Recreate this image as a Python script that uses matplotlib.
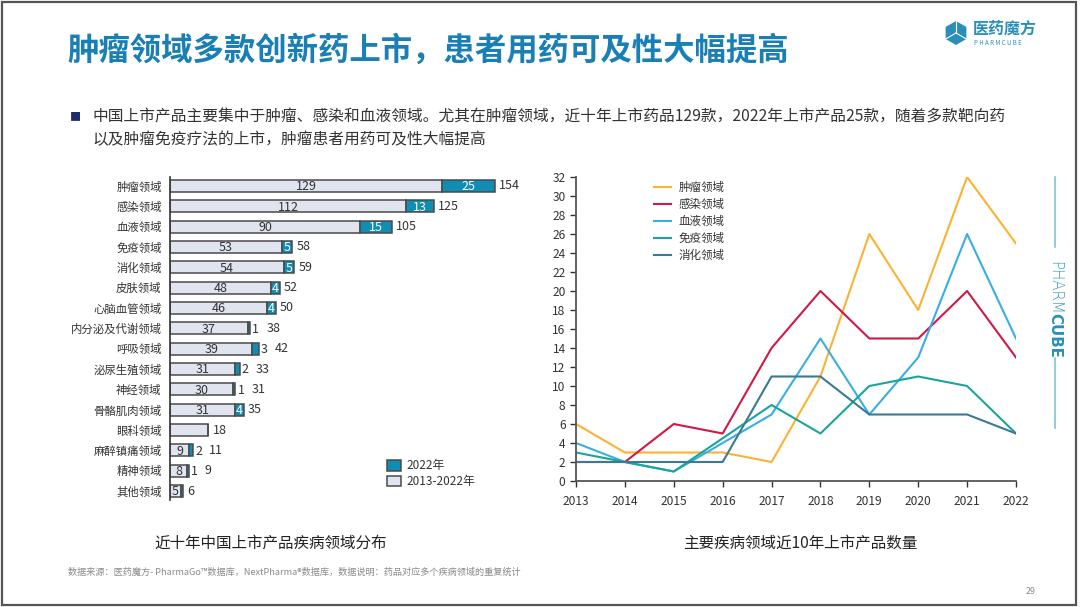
import matplotlib
matplotlib.use("Agg")
import matplotlib.pyplot as plt
from matplotlib.patches import Rectangle, Polygon
from matplotlib.lines import Line2D
import numpy as np

plt.rcParams['font.family'] = ['Noto Sans CJK SC', 'DejaVu Sans']

# ---------------- data ----------------
categories = ['肿瘤领域', '感染领域', '血液领域', '免疫领域', '消化领域', '皮肤领域',
              '心脑血管领域', '内分泌及代谢领域', '呼吸领域', '泌尿生殖领域', '神经领域',
              '骨骼肌肉领域', '眼科领域', '麻醉镇痛领域', '精神领域', '其他领域']
base_values = [129, 112, 90, 53, 54, 48, 46, 37, 39, 31, 30, 31, 18, 9, 8, 5]
new_values = [25, 13, 15, 5, 5, 4, 4, 1, 3, 2, 1, 4, 0, 2, 1, 1]
bar_legend = ['2022年', '2013-2022年']

years = [2013, 2014, 2015, 2016, 2017, 2018, 2019, 2020, 2021, 2022]
series_names = ['肿瘤领域', '感染领域', '血液领域', '免疫领域', '消化领域']
tumor = [6, 3, 3, 3, 2, 11, 26, 18, 32, 25]
infection = [2, 2, 6, 5, 14, 20, 15, 15, 20, 13]
blood = [4, 2, 1, 4, 7, 15, 7, 13, 26, 15]
immune = [3, 2, 1, 4.5, 8, 5, 10, 11, 10, 5]
digestive = [2, 2, 2, 2, 11, 11, 7, 7, 7, 5]
line_colors = ['#fbb234', '#cf1946', '#3aaee3', '#19a59b', '#3a7a93']

W, H = 1080, 607
fig = plt.figure(figsize=(W / 100, H / 100), dpi=100)
fig.patch.set_facecolor('white')


def fx(x):
    return x / W


def fy(y):
    return 1 - y / H


# slide border
fig.add_artist(Rectangle((fx(1.5), fy(604.5)), fx(1074), (603) / H, transform=fig.transFigure,
                         fill=False, edgecolor='#555555', lw=1.6))

# title
fig.text(fx(67), fy(51), '肿瘤领域多款创新药上市，患者用药可及性大幅提高', fontsize=22.6,
         fontweight='bold', color='#1a7fb5', va='center', ha='left')

# logo
cx, cy, r = 956, 33, 12
hexpts = [(cx + r * np.cos(np.radians(a)), cy + r * np.sin(np.radians(a))) for a in range(30, 390, 60)]
fig.add_artist(Polygon([(fx(x), fy(y)) for x, y in hexpts], closed=True, transform=fig.transFigure,
                       facecolor='#2a8fb8', edgecolor='none'))
for a in (90, 210, 330):
    x2 = cx + r * np.cos(np.radians(a))
    y2 = cy - r * np.sin(np.radians(a))
    fig.add_artist(Line2D([fx(cx), fx(x2)], [fy(cy), fy(y2)], transform=fig.transFigure,
                          color='white', lw=0.8))
fig.text(fx(973), fy(29), '医药魔方', fontsize=11.5, fontweight='bold', color='#2a8fb8',
         va='center', ha='left')
fig.text(fx(974), fy(43), 'P H A R M C U B E', fontsize=4.4, color='#2a8fb8', va='center', ha='left')

# bullet text
fig.text(fx(70), fy(117), '■', fontsize=8, color='#1d2c6b', va='center', ha='left')
fig.text(fx(92), fy(117), '中国上市产品主要集中于肿瘤、感染和血液领域。尤其在肿瘤领域，近十年上市药品129款，'
         '2022年上市产品25款，随着多款靶向药', fontsize=11.3, color='#333333', va='center', ha='left')
fig.text(fx(92), fy(140), '以及肿瘤免疫疗法的上市，肿瘤患者用药可及性大幅提高', fontsize=11.3,
         color='#333333', va='center', ha='left')

# right vertical brand
fig.add_artist(Line2D([fx(1055), fx(1055)], [fy(177), fy(247)], transform=fig.transFigure,
                      color='#86c0d3', lw=1.2))
fig.add_artist(Line2D([fx(1055), fx(1055)], [fy(358), fy(428)], transform=fig.transFigure,
                      color='#86c0d3', lw=1.2))
fig.text(fx(1055), fy(288), 'PHARM', rotation=270, fontsize=10.8, color='#3b9bbd', va='center',
         ha='center', family=['DejaVu Sans'], fontweight='light')
fig.text(fx(1055), fy(335), 'CUBE', rotation=270, fontsize=10.8, color='#2a8fb8', va='center',
         ha='center', family=['DejaVu Sans'], fontweight='bold')

# ---------------- bar chart ----------------
ax1 = fig.add_axes([fx(170), fy(500), 380 / W, (500 - 177) / H])
scale = 2.11  # px per unit
ax1.set_xlim(0, 380 / scale)
n = len(categories)
ax1.set_ylim(n - 1 + 0.44, -0.44)
ypos = np.arange(n)
bar_h = 0.6
grey = '#dfe4ee'
blue = '#0f8db4'
edge = '#4a4a4a'
ax1.barh(ypos, base_values, height=bar_h, color=grey, edgecolor=edge, linewidth=1.1, label=bar_legend[1])
ax1.barh(ypos, new_values, left=base_values, height=bar_h, color=blue, edgecolor=edge, linewidth=1.1,
         label=bar_legend[0])
for spine in ['top', 'right', 'bottom']:
    ax1.spines[spine].set_visible(False)
ax1.spines['left'].set_color('#333333')
ax1.spines['left'].set_linewidth(1.2)
ax1.set_xticks([])
ax1.set_yticks(ypos)
ax1.set_yticklabels(categories, fontsize=8.2, color='#333333')
ax1.tick_params(axis='y', length=0, pad=6)

for i in range(n):
    b, v = base_values[i], new_values[i]
    tot = b + v
    if v > 0:
        ax1.text(b / 2, i + 0.04, str(b), ha='center', va='center', fontsize=9, color='#333333')
    if v >= 4:
        ax1.text(b + v / 2, i + 0.04, str(v), ha='center', va='center', fontsize=9, color='white')
        ax1.annotate(str(tot), (tot, i), xytext=(3, 0), textcoords='offset points',
                     ha='left', va='center', fontsize=9, color='#333333')
    elif v > 0 and i < n - 1:
        ax1.annotate(str(v), (tot, i + 0.04), xytext=(1.5, 0), textcoords='offset points',
                     ha='left', va='center', fontsize=9, color='#333333')
        ax1.annotate(str(tot), (tot, i), xytext=(11.5, 0), textcoords='offset points',
                     ha='left', va='center', fontsize=9, color='#333333')
    else:
        ax1.annotate(str(tot), (tot, i), xytext=(3.5, 0), textcoords='offset points',
                     ha='left', va='center', fontsize=9, color='#333333')

h, l = ax1.get_legend_handles_labels()
leg1 = ax1.legend(h[::-1], l[::-1], loc='upper left', bbox_to_anchor=(fx(379), fy(451)),
                  bbox_transform=fig.transFigure, frameon=False, fontsize=8.5,
                  handlelength=1.2, handleheight=1.0, handletextpad=0.4, labelspacing=0.25,
                  borderpad=0.2)
for t in leg1.get_texts():
    t.set_color('#333333')

fig.text(fx(271), fy(543), '近十年中国上市产品疾病领域分布', fontsize=11.2, color='#222222',
         ha='center', va='center')

# ---------------- line chart ----------------
ax2 = fig.add_axes([fx(576), fy(481), 440 / W, (481 - 177) / H])
all_series = [tumor, infection, blood, immune, digestive]
for name, vals, c in zip(series_names, all_series, line_colors):
    ax2.plot(years, vals, color=c, lw=1.5, label=name)
ax2.set_xlim(2013, 2022)
ax2.set_ylim(0, 32)
ax2.set_xticks(years)
ax2.set_yticks(range(0, 33, 2))
ax2.tick_params(axis='both', labelsize=8.6, colors='#333333', length=4, width=1, direction='out')
ax2.tick_params(axis='x', pad=6)
for spine in ['top', 'right']:
    ax2.spines[spine].set_visible(False)
for spine in ['left', 'bottom']:
    ax2.spines[spine].set_color('#555555')
    ax2.spines[spine].set_linewidth(1.3)
leg2 = ax2.legend(loc='upper left', bbox_to_anchor=(fx(646), fy(173)), bbox_transform=fig.transFigure,
                  frameon=False, fontsize=8.3, handlelength=1.5, handletextpad=0.6,
                  labelspacing=0.35, borderpad=0.2)
for t in leg2.get_texts():
    t.set_color('#333333')

fig.text(fx(800), fy(543), '主要疾病领域近10年上市产品数量', fontsize=11.2, color='#222222',
         ha='center', va='center')

# footer
fig.text(fx(68), fy(572), '数据来源：医药魔方- PharmaGo™数据库，NextPharma®数据库，数据说明：药品对应多个疾病领域的重复统计',
         fontsize=6.6, color='#8a8a8a', ha='left', va='center')
fig.text(fx(1031), fy(591), '29', fontsize=6.4, color='#8a8a8a', ha='center', va='center')

fig.savefig('out.png', dpi=100, facecolor='white')
